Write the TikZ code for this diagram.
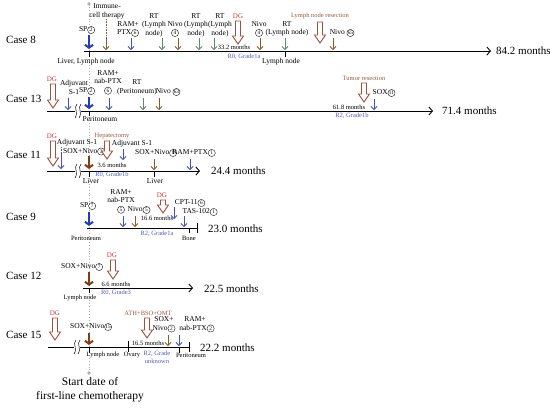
\documentclass[tikz,border=0pt]{standalone}
\usepackage{fontspec}
\setmainfont{Liberation Serif}
\usetikzlibrary{arrows.meta}
\definecolor{cblue}{RGB}{60,80,200}
\definecolor{cblueD}{RGB}{35,60,190}
\definecolor{cgreen}{RGB}{90,140,95}
\definecolor{cbrown}{RGB}{140,90,40}
\definecolor{cbrownD}{RGB}{130,60,20}
\definecolor{chol}{RGB}{160,80,60}
\definecolor{cred}{RGB}{210,50,50}
\definecolor{copb}{RGB}{150,90,60}
\definecolor{ctxtb}{RGB}{80,90,200}
\definecolor{cgray}{RGB}{175,175,175}
\newcommand{\cn}[1]{\tikz[baseline=(cc.base)]\node[circle,draw,line width=0.35pt,inner sep=0.2pt,minimum size=7.2pt,anchor=center,font=\fontsize{5.3}{5.3}\selectfont](cc){#1};}
\newcommand{\harr}[3]{\draw[hollow] ({#1-2.5},#2) -- ({#1+2.5},#2) -- ({#1+2.5},{#3-8}) -- ({#1+5.5},{#3-8}) -- (#1,#3) -- ({#1-5.5},{#3-8}) -- ({#1-2.5},{#3-8}) -- cycle;}
\newcommand{\brk}[2]{\fill[white] ({#1-3},{#2-2}) rectangle ({#1+3},{#2+2});
  \draw[line width=0.5pt] ({#1-1},{#2-7}) .. controls ({#1-5},{#2-3}) and ({#1+1},{#2+1}) .. ({#1-3},{#2+7});
  \draw[line width=0.5pt] ({#1+3},{#2-7}) .. controls ({#1-1},{#2-3}) and ({#1+5},{#2+1}) .. ({#1+1},{#2+7});}
\tikzset{
  lab/.style={font=\fontsize{7.5}{8.5}\selectfont, inner sep=0pt, align=center},
  sm/.style={font=\fontsize{6.5}{7.5}\selectfont, inner sep=0pt, align=center},
  blt/.style={sm, text=ctxtb},
  dgl/.style={font=\fontsize{7}{7}\selectfont, inner sep=0pt, text=cred},
  opl/.style={sm, text=copb},
  casel/.style={font=\fontsize{11}{12}\selectfont, anchor=west, inner sep=0pt},
  monl/.style={font=\fontsize{11}{12}\selectfont, anchor=west, inner sep=0pt},
  axis/.style={line width=0.9pt, -{Straight Barb[length=3.5pt,width=8pt]}},
  axisbar/.style={line width=0.9pt, -{Bar[width=10pt,line width=0.9pt]}},
  tick/.style={line width=0.7pt},
  ba/.style={cblue, line width=0.8pt, -{Straight Barb[length=3pt,width=6pt]}},
  ga/.style={cgreen, line width=0.8pt, -{Straight Barb[length=3pt,width=6pt]}},
  na/.style={cbrown, line width=0.8pt, -{Straight Barb[length=3pt,width=6pt]}},
  spb/.style={cblueD, line width=2pt, -{Straight Barb[length=3pt,width=8pt]}},
  spn/.style={cbrownD, line width=2pt, -{Straight Barb[length=3pt,width=8pt]}},
  hollow/.style={draw=chol, fill=white, line width=0.9pt, line join=miter},
}
\begin{document}
\begin{tikzpicture}[x=1pt,y=-1pt]
\useasboundingbox (0,0) rectangle (550,408);
% start date line
\draw[cgray, line width=0.9pt, dotted] (89,4) -- (89,372);
\fill[cgray] (89,4) circle (1.8);
\fill[cgray] (89,373) circle (1.8);

%% Case 8
\node[casel] (c8) at (6,40) {Case 8};
\draw[axis] (84,51) -- (491,51);
\node[monl] (e8) at (496,51) {84.2 months};
\node[lab] (sp8) at (87,30) {SP\cn{2}};
\draw[spb] (89,35) -- (89,49);
\node[lab] (imm8) at (107,11.5) {Immune-\\cell therapy};
\draw[cbrown, line width=0.6pt, densely dotted] (106,19) -- (106,38);
\draw[na] (106,38) -- (106,50);
\node[lab] (ram8) at (128,29) {RAM+\\PTX\cn{6}};
\draw[ba] (131,38) -- (131,50);
\node[lab] (rt8a) at (154,25) {RT\\(Lymph\\node)};
\draw[ga] (162,38) -- (162,50);
\node[lab] (nv8a) at (175,29) {Nivo\\\cn{4}};
\draw[na] (178,38) -- (178,50);
\node[lab] (rt8b) at (196,25) {RT\\(Lymph\\node)};
\draw[ga] (199,38) -- (199,50);
\node[lab] (rt8c) at (220,25) {RT\\(Lymph\\node)};
\draw[ga] (214,38) -- (214,50);
\node[dgl] (dg8) at (238,16) {DG};
\harr{238}{21}{44}
\node[sm] (m8) at (234,47.5) {33.2 months};
\node[blt] (g8) at (244,57) {R0, Grade1a};
\node[lab] (nv8b) at (259,29) {Nivo\\\cn{4}};
\draw[na] (260,38) -- (260,50);
\node[lab] (rt8d) at (287,29) {RT\\(Lymph node)};
\draw[ga] (285,38) -- (285,50);
\node[opl] (lnr8) at (320,16) {Lymph node resection};
\harr{320}{22}{43}
\node[lab] (nv8c) at (342,33) {Nivo \cn{65}};
\draw[na] (333,38) -- (333,50);
\draw[tick] (89,51) -- (89,57);
\draw[tick] (285,51) -- (285,57);
\node[lab] (liv8) at (86,62) {Liver, Lymph node};
\node[lab] (ln8) at (281,62) {Lymph node};

%% Case 13
\node[casel] (c13) at (6,99) {Case 13};
\draw[axis] (47,111) -- (433,111);
\node[monl] (e13) at (442,111) {71.4 months};
\node[dgl] (dg13) at (52,79) {DG};
\harr{53}{84}{108}
\node[lab] (adj13) at (74,87.5) {Adjuvant\\S-1};
\draw[ba] (68,98) -- (68,110);
\brk{78}{111}
\node[lab] (sp13) at (87,91) {SP\cn{2}};
\draw[spb] (89,97) -- (89,109);
\node[lab] (ram13) at (108,82.5) {RAM+\\nab-PTX\\\cn{6}};
\draw[ba] (109,98) -- (109,110);
\node[lab] (rt13) at (137,87.5) {RT\\(Peritoneum)};
\draw[ga] (143,98) -- (143,110);
\node[lab] (nv13) at (168,92) {Nivo \cn{63}};
\draw[na] (159,98) -- (159,110);
\draw[tick] (89,111) -- (89,116);
\node[lab] (per13) at (100,119) {Peritoneum};
\node[opl] (tr13) at (364,78) {Tumor resection};
\harr{364}{83}{102}
\node[lab] (sox13) at (384,93) {SOX\cn{11}};
\draw[ba] (374,99) -- (374,110);
\node[sm] (m13) at (349,107) {61.8 months};
\node[blt] (g13) at (352,116) {R2, Grade1b};

%% Case 11
\node[casel] (c11) at (6,155) {Case 11};
\draw[axis] (47,171) -- (200,171);
\node[monl] (e11) at (211,171) {24.4 months};
\node[dgl] (dg11) at (52,136) {DG};
\harr{53}{141}{166}
\node[lab] (adj11a) at (77,143) {Adjuvant S-1};
\draw[cblue, line width=0.6pt, densely dotted] (61,147) -- (61,154);
\draw[ba] (61,154) -- (61,169);
\node[lab] (sn11) at (84,151.5) {SOX+Nivo\cn{3}};
\brk{78}{171}
\draw[spn] (89,156) -- (89,169);
\node[opl] (hep11) at (112,136) {Hepatectomy};
\harr{107}{141}{159}
\node[sm] (m11) at (112,165) {3.6 months};
\node[blt] (g11) at (112,174.5) {R0, Grade1b};
\node[lab] (adj11b) at (132,144) {Adjuvant S-1};
\draw[ba] (123,149) -- (123,160);
\node[lab] (sn11b) at (156,153) {SOX+Nivo\cn{9}};
\draw[na] (154,159) -- (154,170);
\node[lab] (rp11) at (194,153) {RAM+PTX\cn{1}};
\draw[ba] (190,159) -- (190,170);
\draw[tick] (89,171) -- (89,177);
\draw[tick] (154,171) -- (154,177);
\node[lab] (liv11a) at (91,181) {Liver};
\node[lab] (liv11b) at (155,181) {Liver};

%% Case 9
\node[casel] (c9) at (6,217) {Case 9};
\draw[axisbar] (87,228) -- (198,228);
\node[monl] (e9) at (208,229) {23.0 months};
\node[lab] (sp9) at (88,206) {SP\cn{7}};
\draw[spb] (89,212) -- (89,226);
\node[lab] (ram9) at (121,201.5) {RAM+\\nab-PTX\\\cn{5}};
\draw[ba] (123,216) -- (123,227);
\node[lab] (nv9) at (139,210) {Nivo\cn{5}};
\draw[na] (135,216) -- (135,227);
\node[dgl] (dg9) at (162,195) {DG};
\harr{163}{200}{213}
\node[sm] (m9) at (157,218) {16.6 months};
\node[blt] (g9) at (157,234) {R2, Grade1a};
\node[lab] (cpt9) at (190,203) {CPT-11\cn{6}};
\draw[ba] (174,207) -- (174,219);
\node[lab] (tas9) at (200,212) {TAS-102\cn{1}};
\draw[ba] (184,216) -- (184,227);
\draw[tick] (189,228) -- (189,233);
\node[sm] (per9) at (86,238) {Peritoneum};
\node[sm] (bone9) at (189,238) {Bone};

%% Case 12
\node[casel] (c12) at (6,276) {Case 12};
\draw[axis] (83,288) -- (193,288);
\node[monl] (e12) at (204,289) {22.5 months};
\node[dgl] (dg12) at (112,255) {DG};
\harr{113}{260}{279}
\node[lab] (sn12) at (82,267) {SOX+Nivo\cn{7}};
\draw[spn] (89,272) -- (89,286);
\node[sm] (m12) at (116,284) {6.6 months};
\node[blt] (g12) at (116,293) {R0, Grade3};
\draw[tick] (89,288) -- (89,293);
\node[sm] (ln12) at (80,298) {Lymph node};

%% Case 15
\node[casel] (c15) at (6,335) {Case 15};
\draw[axisbar] (48,347) -- (190,347);
\node[monl] (e15) at (200,348) {22.2 months};
\node[dgl] (dg15) at (55,313) {DG};
\harr{55}{318}{340}
\node[lab] (sn15) at (91,327) {SOX+Nivo\cn{15}};
\draw[spn] (89,333) -- (89,345);
\brk{77}{347}
\node[opl] (ath15) at (148,313) {ATH+BSO+OMT};
\harr{147}{318}{338}
\node[lab] (sox15) at (164,324.5) {SOX+\\Nivo\cn{2}};
\draw[na] (168,335) -- (168,346);
\node[lab] (ram15) at (195,324.5) {RAM+\\\,\,\,nab-PTX\cn{2}};
\draw[ba] (179,335) -- (179,346);
\node[sm] (m15) at (148,343) {16.5 months};
\node[blt] (g15) at (157,357.5) {R2, Grade\\unknown};
\draw[tick] (89,347) -- (89,353);
\draw[tick] (128,341) -- (128,352);
\draw[tick] (179,347) -- (179,353);
\node[sm] (ln15) at (103,355) {Lymph node};
\node[sm] (ov15) at (132,355) {Ovary};
\node[sm] (per15) at (191,355) {Peritoneum};

%% start label
\node[font=\fontsize{11.5}{14}\selectfont, align=center, inner sep=0pt] (start) at (90,390) {Start date of\\first-line chemotherapy};
\end{tikzpicture}
\end{document}
